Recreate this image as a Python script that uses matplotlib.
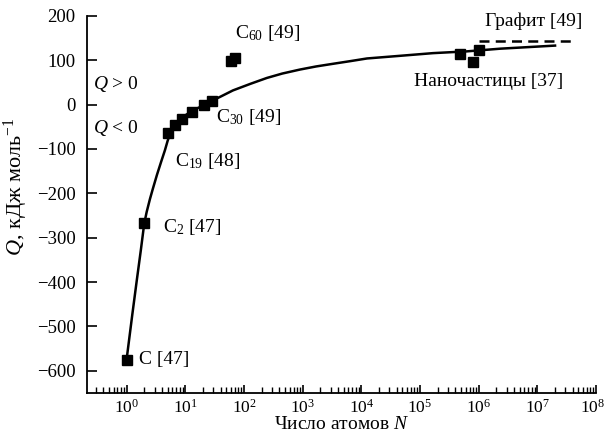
import matplotlib
matplotlib.use("Agg")
import matplotlib.pyplot as plt
import matplotlib.transforms as mtransforms
import numpy as np

plt.rcParams['font.family'] = ['Liberation Serif', 'DejaVu Serif']
plt.rcParams['mathtext.fontset'] = 'custom'
plt.rcParams['mathtext.rm'] = 'Liberation Serif'
plt.rcParams['mathtext.it'] = 'Liberation Serif:italic'
plt.rcParams['mathtext.bf'] = 'Liberation Serif:bold'

# data points (squares)
pts_N = [1, 2, 5, 6.6, 8.7, 13, 21, 29, 60, 70, 4.8e5, 8e5, 1e6]
pts_Q = [-575, -268, -63, -45, -32, -16, 0, 9, 98, 104, 113, 95, 124]

# fitted curve
curve_N = [1, 1.25, 1.5, 1.75, 2, 2.2, 2.5, 2.8, 3.3, 3.9, 4.5, 5.0, 5.6, 6.6, 8.7, 13,
           21, 29, 40, 65, 130, 245, 450, 900, 1700, 3300, 6500, 12500, 46000,
           166000, 630000, 2.3e6, 2e7]
curve_Q = [-575, -474, -394, -328, -268, -242, -213, -190, -158, -128, -103, -82, -63, -46,
           -30, -14, -1, 9, 18, 32, 47, 60, 70, 79, 86, 92, 98, 104, 110,
           116, 120, 126, 133]

# graphite level
graph_N = [1e6, 4e7]
graph_Q = [144, 144]

fig = plt.figure(figsize=(6.07, 4.41), dpi=100)
ax = fig.add_axes([0.143, 0.109, 0.839, 0.855])

ax.plot(curve_N, curve_Q, color='black', lw=1.8, zorder=2)
ax.plot(pts_N, pts_Q, 's', color='black', ms=7.5, zorder=3)
ax.plot(graph_N, graph_Q, color='black', lw=1.8, ls=(0, (4, 2.5)), zorder=2)

ax.set_xscale('log')
ax.set_xlim(0.21, 1e8)
ax.set_ylim(-650, 200)
ax.set_yticks([-600, -500, -400, -300, -200, -100, 0, 100, 200])
ax.set_yticklabels(['\u2212600', '\u2212500', '\u2212400', '\u2212300', '\u2212200',
                    '\u2212100', '0', '100', '200'])
ax.set_xticks([10.0**k for k in range(0, 9)])
ax.set_xticklabels([r'$10^{%d}$' % k for k in range(0, 9)])
ax.xaxis.set_minor_locator(matplotlib.ticker.LogLocator(base=10, subs=np.arange(2, 10), numticks=20))
ax.xaxis.set_minor_formatter(matplotlib.ticker.NullFormatter())

for s in ['top', 'right']:
    ax.spines[s].set_visible(False)
for s in ['left', 'bottom']:
    ax.spines[s].set_linewidth(1.3)

ax.tick_params(axis='y', which='major', direction='in', length=7, width=1.2, labelsize=13.5, pad=8)
ax.tick_params(axis='x', which='major', direction='in', length=6, width=1.2, labelsize=12.5, pad=4)
ax.tick_params(axis='x', which='minor', direction='in', length=4, width=1.0)

# keep the last x tick label inside the canvas
last = ax.get_xticklabels()[-1]
last.set_transform(last.get_transform() + mtransforms.ScaledTranslation(-4 / 100, 0, fig.dpi_scale_trans))

ax.set_xlabel('Число атомов $N$', fontsize=14, labelpad=0)
ax.set_ylabel('$Q$, кДж моль$^{-1}$', fontsize=16)
ax.yaxis.set_label_coords(-0.112, 0.546)

fs = 14
ax.text(70, 162, r'C$_{60}$ [49]', fontsize=fs, ha='left', va='center')
ax.text(34, -29, r'C$_{30}$ [49]', fontsize=fs, ha='left', va='center')
ax.text(6.6, -128, r'C$_{19}$ [48]', fontsize=fs, ha='left', va='center')
ax.text(4.1, -277, r'C$_{2}$ [47]', fontsize=fs, ha='left', va='center')
ax.text(1.65, -574, 'C [47]', fontsize=fs, ha='left', va='center')
ax.text(1.3e6, 187, 'Графит [49]', fontsize=fs, ha='left', va='center')
ax.text(10**4.89, 52, 'Наночастицы [37]', fontsize=fs, ha='left', va='center')
ax.text(0.27, 47, r'$Q$ > 0', fontsize=fs, ha='left', va='center')
ax.text(0.27, -52, r'$Q$ < 0', fontsize=fs, ha='left', va='center')

fig.savefig('out.png', dpi=100)
